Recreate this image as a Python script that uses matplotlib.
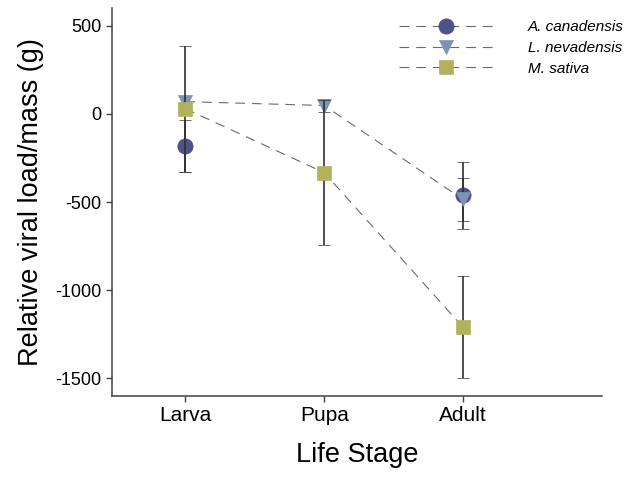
import numpy as np
import matplotlib
matplotlib.use('Agg')
import matplotlib.pyplot as plt

plt.rcParams['font.family'] = ['Liberation Sans', 'DejaVu Sans']
plt.rcParams['lines.scale_dashes'] = False
plt.rcParams['axes.unicode_minus'] = False

# data
stages = ['Larva', 'Pupa', 'Adult']
species = ['A. canadensis', 'L. nevadensis', 'M. sativa']
canadensis = [-182, np.nan, -461]
canadensis_err = [146, np.nan, 190]
nevadensis = [70, 48, -485]
nevadensis_err = [32, 37, 123]
sativa = [30, -333, -1210]
sativa_err = [358, 411, 290]

markers = ['o', 'v', 's']
sizes = [11, 10, 10]
colors = ['#4e5286', '#7e93b4', '#b2b25e']

x = np.arange(1, len(stages) + 1)

fig = plt.figure(figsize=(6.35, 4.83), dpi=100)
ax = fig.add_axes([0.176, 0.18, 0.772, 0.803])

series = [(canadensis, canadensis_err), (nevadensis, nevadensis_err), (sativa, sativa_err)]
handles = []
for i, (vals, errs) in enumerate(series):
    cont = ax.errorbar(x, vals, yerr=errs, ls=(0, (7, 5)), color='#6a6a6a', lw=0.8,
                       marker=markers[i], ms=sizes[i], mfc=colors[i], mec=colors[i], mew=0.5,
                       ecolor='#303030', elinewidth=1.2, capsize=4.5, capthick=1.2,
                       label=species[i], zorder=2 + i)
    handles.append(cont[0])

ax.set_xlim(0.47, 4.0)
ax.set_ylim(-1600, 600)
ax.set_xticks(x)
ax.set_xticklabels(stages, fontsize=15)
ax.set_yticks([500, 0, -500, -1000, -1500])
ax.tick_params(axis='y', labelsize=13)
ax.tick_params(direction='out', length=4, width=1, color='#404040')

for s in ['top', 'right']:
    ax.spines[s].set_visible(False)
for s in ['left', 'bottom']:
    ax.spines[s].set_color('#404040')
    ax.spines[s].set_linewidth(1.1)

ax.set_xlabel('Life Stage', fontsize=19.5, labelpad=12)
ax.set_ylabel('Relative viral load/mass (g)', fontsize=19.5, labelpad=8)

leg = ax.legend(handles, species, loc='upper right', bbox_to_anchor=(1.072, 1.005),
                frameon=False, numpoints=1,
                fontsize=11, handlelength=6.1, handletextpad=2.3, labelspacing=0.45)
for t in leg.get_texts():
    t.set_style('italic')

fig.savefig('out.png', dpi=100)
